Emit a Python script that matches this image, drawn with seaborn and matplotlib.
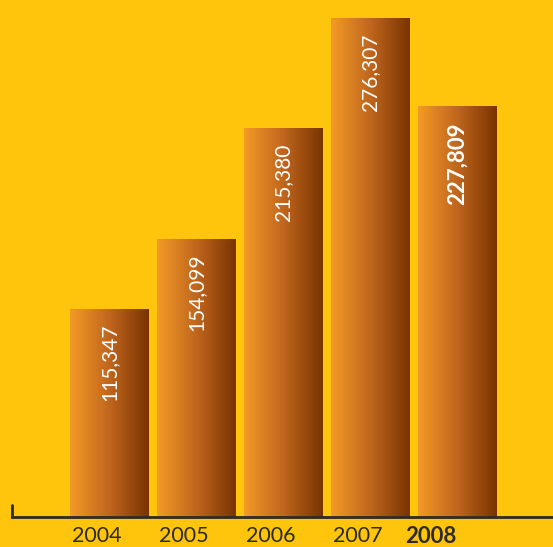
import numpy as np
import pandas as pd
import matplotlib
matplotlib.use("Agg")
import matplotlib.pyplot as plt
import seaborn as sns
from matplotlib.colors import LinearSegmentedColormap
from matplotlib.transforms import ScaledTranslation
from matplotlib.lines import Line2D

years = ["2004", "2005", "2006", "2007", "2008"]
values = [115347, 154099, 215380, 276307, 227809]
value_labels = ["115,347", "154,099", "215,380", "276,307", "227,809"]
highlight = "2008"

BG = "#FFC40C"
DARK = "#2E2A25"

sns.set_theme(style="white")
plt.rcParams["font.family"] = ["Lato", "DejaVu Sans"]

fig = plt.figure(figsize=(5.53, 5.47), dpi=100, facecolor=BG)
ax = fig.add_axes([12 / 553, 30 / 547, 1 - 12 / 553, 517 / 547])
ax.set_facecolor(BG)

df = pd.DataFrame({"year": years, "value": values})
sns.barplot(data=df, x="year", y="value", color="#C06018", width=0.908,
            ax=ax, saturation=1, edgecolor="none", linewidth=0)

cmap = LinearSegmentedColormap.from_list("g", ["#F39A26", "#C0661E", "#7A3300"])
grad = np.linspace(0, 1, 256).reshape(1, -1)
for p in ax.patches:
    x0, y0 = p.get_x(), p.get_y()
    w, h = p.get_width(), p.get_height()
    p.set_facecolor("none")
    im = ax.imshow(grad, cmap=cmap, aspect="auto", extent=[x0, x0 + w, y0, y0 + h],
                   zorder=p.get_zorder(), interpolation="bilinear")
    im.set_clip_path(p)
ax.set_xlim(-1.121, 5.098)
ax.set_ylim(0, 286275)

for i, (v, lab, yr) in enumerate(zip(values, value_labels, years)):
    bold = yr == highlight
    off = ScaledTranslation(0, -(12 if bold else 11) / 72, fig.dpi_scale_trans)
    ax.text(i, v, lab, rotation=90, ha="center", va="top", color="white",
            fontsize=16 if bold else 15, fontweight="bold" if bold else "normal",
            transform=ax.transData + off, zorder=5)

for s in ["top", "right", "left"]:
    ax.spines[s].set_visible(False)
ax.spines["bottom"].set_color(DARK)
ax.spines["bottom"].set_linewidth(2)
ax.spines["bottom"].set_zorder(6)

ax.add_line(Line2D([0, 0], [0, 12 / 517], transform=ax.transAxes, color=DARK,
                   linewidth=2, clip_on=False, zorder=6))

ax.set_yticks([])
ax.set_xlabel("")
ax.set_ylabel("")
ax.tick_params(axis="x", length=0, pad=6.5)
ax.set_xticks(range(len(years)))
ax.set_xticklabels(years)
for t, yr in zip(ax.get_xticklabels(), years):
    bold = yr == highlight
    shift = ScaledTranslation((-19 if bold else -9) / 72, 0, fig.dpi_scale_trans)
    t.set_fontsize(16 if bold else 15.5)
    t.set_color(DARK)
    t.set_fontweight("bold" if bold else "normal")
    t.set_transform(t.get_transform() + shift)

fig.savefig("out.png", dpi=100, facecolor=BG)
